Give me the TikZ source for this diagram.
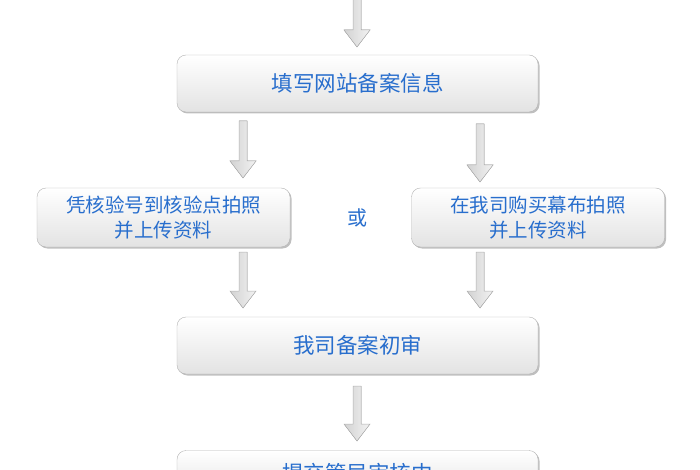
\documentclass[tikz,border=0pt]{standalone}
\usepackage{fontspec}
\newfontfamily\cjk{Noto Sans CJK SC}
\usetikzlibrary{shadows}
\definecolor{txt}{RGB}{40,110,205}
\tikzset{
 box/.style={draw=gray!60, rounded corners=9pt, top color=white, bottom color=gray!22, drop shadow={shadow xshift=1.5pt,shadow yshift=-1.5pt,opacity=0.5}, text=txt, font=\cjk, align=center, inner sep=0pt},
 bigbox/.style={box, minimum width=361pt, minimum height=57pt, font=\cjk\fontsize{21.5}{24}\selectfont},
 smallbox/.style={box, minimum width=253pt, minimum height=59pt, font=\cjk\fontsize{19.5}{25}\selectfont},
}
\newcommand{\garrow}[3]{% x, ytop, ybottom
 \fill[left color=gray!35,right color=gray!10, draw=gray!60, line width=0.5pt]
  (#1-4,#2) -- (#1+4,#2) -- (#1+4,#3-17) -- (#1+13,#3-17) -- (#1,#3) -- (#1-13,#3-17) -- (#1-4,#3-17) -- cycle;}
\begin{document}
\begin{tikzpicture}[x=1pt,y=-1pt]
\useasboundingbox (0,0) rectangle (700,470);
\clip (0,0) rectangle (700,470);
\node[bigbox] (b1) at (357.5,83.5) {填写网站备案信息};
\node[smallbox] (l) at (163.5,217.5) {凭核验号到核验点拍照\\并上传资料};
\node[smallbox] (r) at (538,217.5) {在我司购买幕布拍照\\并上传资料};
\node[font=\cjk\fontsize{20}{22}\selectfont, text=txt] (or) at (357,218) {或};
\node[bigbox] (b3) at (357.5,345.5) {我司备案初审};
\node[bigbox, minimum height=46pt] (b4) at (357.5,473.5) {提交管局审核中};
\garrow{357}{-2}{47}
\garrow{243}{121}{178}
\garrow{480}{124}{182}
\garrow{243}{252}{308}
\garrow{480}{252}{308}
\garrow{357}{386}{441}
\end{tikzpicture}
\end{document}
